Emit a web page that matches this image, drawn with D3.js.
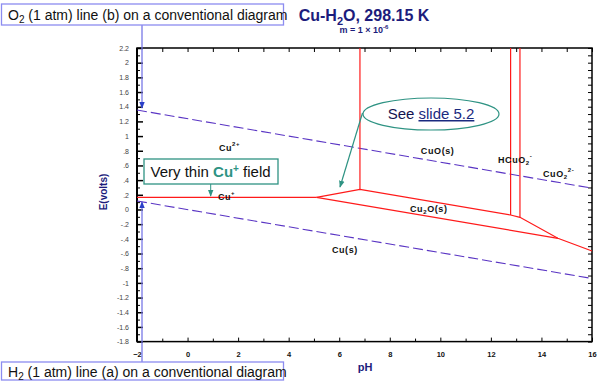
<!DOCTYPE html>
<html><head><meta charset="utf-8">
<script src="https://cdn.jsdelivr.net/npm/d3@7"></script>
<style>body{margin:0;background:#fff}svg{display:block}</style>
</head><body>
<svg id="c" width="600" height="386"></svg>
<script>
// ---------- data ----------
const pHMajor = [-2, 0, 2, 4, 6, 8, 10, 12, 14, 16];
const pHMinor = [-1, 1, 3, 5, 7, 9, 11, 13, 15];
const eLabelValues = [2.2, 2, 1.8, 1.6, 1.4, 1.2, 1, 0.8, 0.6, 0.4, 0.2, 0, -0.2, -0.4, -0.6, -0.8, -1, -1.2, -1.4, -1.6, -1.8];
const eLabels = ["2.2","2","1.8","1.6","1.4","1.2","1",".8",".6",".4",".2","0","-.2","-.4","-.6","-.8","-1","-1.2","-1.4","-1.6","-1.8"];
const eMinor = [2.1, 1.9, 1.7, 1.5, 1.3, 1.1, 0.9, 0.7, 0.5, 0.3, 0.1, -0.1, -0.3, -0.5, -0.7, -0.9, -1.1, -1.3, -1.5, -1.7];

// phase boundaries (pH, E)
const cuPlusPH = [-2, 5.1], cuPlusE = [0.165, 0.165];
const cu2oUpperPH = [5.1, 6.82, 12.78, 13.15, 14.65, 16];
const cu2oUpperE  = [0.165, 0.275, -0.075, -0.107, -0.393, -0.566];
const cu2oLowerPH = [5.1, 14.65], cu2oLowerE = [0.165, -0.393];
const verticalPH = [6.82, 12.78, 13.15];
const verticalE  = [0.275, -0.075, -0.107];
// water lines
const o2PH = [-2, 16], o2E = [1.355, 0.29];
const h2PH = [-2, 16], h2E = [0.116, -0.94];

// species labels
const speciesNames = ["Cu", "Cu", "CuO(s)", "HCuO", "CuO", "Cu", "Cu(s)"];
const speciesSub   = ["", "", "", "2", "2", "2", ""];
const speciesSup   = ["2+", "+", "", "-", "2-", "", ""];
const speciesTail  = ["", "", "", "", "", "O(s)", ""];
const speciesPH    = [1.24, 1.2, 9.23, 12.28, 14.06, 8.8, 5.71];
const speciesE     = [0.797, 0.129, 0.756, 0.633, 0.443, -0.034, -0.593];

// ---------- chart ----------
const svg = d3.select("#c");
const x = d3.scaleLinear().domain([-2, 16]).range([137, 592]);
const y = d3.scaleLinear().domain([-1.8, 2.2]).range([341.6, 48]);
const navy = "#1c1c7c", teal = "#2e9383", red = "#ff1a1a", purple = "#5a35c4";

// frame
svg.append("rect").attr("x", x(-2)).attr("y", y(2.2)).attr("width", x(16) - x(-2)).attr("height", y(-1.8) - y(2.2))
  .attr("fill", "none").attr("stroke", "#000").attr("stroke-width", 1.5);
svg.append("line").attr("x1", x(-2)).attr("x2", x(-2)).attr("y1", y(2.2)).attr("y2", y(-1.8)).attr("stroke", "#000").attr("stroke-width", 2);

// axes with inward ticks
const gx = svg.append("g").attr("transform", `translate(0,${y(-1.8)})`)
  .call(d3.axisBottom(x).tickValues(pHMajor).tickSize(-4).tickPadding(10).tickFormat(d3.format("d")));
gx.select(".domain").remove();
gx.selectAll("text").attr("font-family", "Arial, Liberation Sans, sans-serif").attr("font-size", 7.5).attr("font-weight", "bold").attr("fill", "#111");
svg.append("g").attr("transform", `translate(0,${y(-1.8)})`)
  .call(d3.axisBottom(x).tickValues(pHMinor).tickSize(-3).tickFormat("")).select(".domain").remove();
const gt = svg.append("g").attr("transform", `translate(0,${y(2.2)})`)
  .call(d3.axisTop(x).tickValues(pHMajor.concat(pHMinor)).tickSize(-4).tickFormat(""));
gt.select(".domain").remove();

const gy = svg.append("g").attr("transform", `translate(${x(-2)},0)`)
  .call(d3.axisLeft(y).tickValues(eLabelValues).tickSize(-6).tickPadding(8).tickFormat((d, i) => eLabels[i]));
gy.select(".domain").remove();
gy.selectAll("text").attr("font-family", "Arial, Liberation Sans, sans-serif").attr("font-size", 7).attr("fill", "#444");
gy.selectAll("line").attr("stroke-width", 1.5);
svg.append("g").attr("transform", `translate(${x(-2)},0)`)
  .call(d3.axisLeft(y).tickValues(eMinor).tickSize(-3).tickFormat("")).select(".domain").remove();
const gr = svg.append("g").attr("transform", `translate(${x(16)},0)`)
  .call(d3.axisRight(y).tickValues(eLabelValues.concat(eMinor)).tickSize(-4).tickFormat(""));
gr.select(".domain").remove();
svg.selectAll(".tick line").attr("stroke", "#000");

// water lines
const line = d3.line().x(d => x(d[0])).y(d => y(d[1]));
[[o2PH, o2E], [h2PH, h2E]].forEach(([p, e]) => {
  svg.append("path").attr("d", line(p.map((v, i) => [v, e[i]])))
    .attr("fill", "none").attr("stroke", purple).attr("stroke-width", 1.1).attr("stroke-dasharray", "10,4");
});

// phase boundaries
[[cuPlusPH, cuPlusE], [cu2oUpperPH, cu2oUpperE], [cu2oLowerPH, cu2oLowerE]].forEach(([p, e]) => {
  svg.append("path").attr("d", line(p.map((v, i) => [v, e[i]])))
    .attr("fill", "none").attr("stroke", red).attr("stroke-width", 1.2);
});
verticalPH.forEach((p, i) => {
  svg.append("line").attr("x1", x(p)).attr("x2", x(p)).attr("y1", y(verticalE[i])).attr("y2", y(2.2))
    .attr("stroke", red).attr("stroke-width", 1.2);
});

// species labels
speciesNames.forEach((n, i) => {
  const t = svg.append("text").attr("x", x(speciesPH[i])).attr("y", y(speciesE[i]))
    .attr("font-family", "Arial, Liberation Sans, sans-serif").attr("font-size", 9).attr("font-weight", "bold")
    .attr("letter-spacing", 0.6).attr("fill", "#111");
  t.append("tspan").text(n);
  if (speciesSub[i]) t.append("tspan").attr("dy", 2).attr("font-size", 6).text(speciesSub[i]);
  if (speciesSup[i]) t.append("tspan").attr("dy", speciesSub[i] ? -7 : -5).attr("font-size", 6).text(speciesSup[i]);
  if (speciesTail[i]) t.append("tspan").attr("dy", speciesSup[i] ? 5 : -2).text(speciesTail[i]);
});

// axis titles
svg.append("text").attr("x", 365).attr("y", 371).attr("text-anchor", "middle")
  .attr("font-family", "Arial, Liberation Sans, sans-serif").attr("font-size", 11).attr("font-weight", "bold").attr("fill", navy).text("pH");
svg.append("text").attr("transform", "translate(107,192) rotate(-90)").attr("text-anchor", "middle")
  .attr("font-family", "Arial, Liberation Sans, sans-serif").attr("font-size", 10).attr("font-weight", "bold").attr("fill", navy).text("E(volts)");

// title
const title = svg.append("text").attr("x", 364).attr("y", 21).attr("text-anchor", "middle")
  .attr("font-family", "Arial, Liberation Sans, sans-serif").attr("font-size", 16).attr("font-weight", "bold").attr("fill", navy);
title.append("tspan").text("Cu-H");
title.append("tspan").attr("dy", 4).attr("font-size", 11).text("2");
title.append("tspan").attr("dy", -4).text("O, 298.15 K");
const sub = svg.append("text").attr("x", 364).attr("y", 33).attr("text-anchor", "middle")
  .attr("font-family", "Arial, Liberation Sans, sans-serif").attr("font-size", 9).attr("font-weight", "bold").attr("fill", navy);
sub.append("tspan").text("m = 1 × 10");
sub.append("tspan").attr("dy", -4).attr("font-size", 6).text("-6");

// defs: arrowheads
const defs = svg.append("defs");
function marker(id, col) {
  defs.append("marker").attr("id", id).attr("viewBox", "0 0 10 10").attr("refX", 9).attr("refY", 5)
    .attr("markerWidth", 7).attr("markerHeight", 7).attr("markerUnits", "userSpaceOnUse").attr("orient", "auto")
    .append("path").attr("d", "M0,1 L10,5 L0,9 Z").attr("fill", col);
}
marker("ab", "#2a3fc8");
marker("at", teal);

// blue annotation arrows
svg.append("line").attr("x1", 142).attr("x2", 142).attr("y1", 25).attr("y2", y(o2E[0]) - 2)
  .attr("stroke", "#7878e6").attr("stroke-width", 1.3).attr("marker-end", "url(#ab)");
svg.append("line").attr("x1", 142).attr("x2", 142).attr("y1", 362).attr("y2", y(h2E[0]) + 1)
  .attr("stroke", "#7878e6").attr("stroke-width", 1.3).attr("marker-end", "url(#ab)");

// annotation boxes
function box(x0, y0, w, h, col) {
  svg.append("rect").attr("x", x0).attr("y", y0).attr("width", w).attr("height", h)
    .attr("fill", "#fff").attr("stroke", col).attr("stroke-width", 1.3);
}
box(1.5, 4, 282, 21, "#8c8cf0");
const t1 = svg.append("text").attr("x", 8).attr("y", 20).attr("font-family", "Arial, Liberation Sans, sans-serif").attr("font-size", 14).attr("fill", "#111");
t1.append("tspan").text("O");
t1.append("tspan").attr("dy", 3).attr("font-size", 10).text("2");
t1.append("tspan").attr("dy", -3).text(" (1 atm) line (b) on a conventional diagram");

box(1.5, 362, 282, 18, "#8c8cf0");
const t2 = svg.append("text").attr("x", 8).attr("y", 376.5).attr("font-family", "Arial, Liberation Sans, sans-serif").attr("font-size", 14).attr("fill", "#111");
t2.append("tspan").text("H");
t2.append("tspan").attr("dy", 3).attr("font-size", 10).text("2");
t2.append("tspan").attr("dy", -3).text(" (1 atm) line (a) on a conventional diagram");

// Very thin Cu+ field
box(144, 159, 134, 25, teal);
const t3 = svg.append("text").attr("x", 150.5).attr("y", 177).attr("font-family", "Arial, Liberation Sans, sans-serif").attr("font-size", 15).attr("fill", "#111");
t3.append("tspan").text("Very thin ");
t3.append("tspan").attr("font-weight", "bold").attr("fill", teal).text("Cu");
t3.append("tspan").attr("dy", -5).attr("font-size", 10).attr("font-weight", "bold").attr("fill", teal).text("+");
t3.append("tspan").attr("dy", 5).text(" field");
svg.append("line").attr("x1", 210.7).attr("x2", 210.7).attr("y1", 184).attr("y2", 196)
  .attr("stroke", teal).attr("stroke-width", 1).attr("marker-end", "url(#at)");

// See slide 5.2
svg.append("line").attr("x1", 362.5).attr("y1", 113).attr("x2", 340).attr("y2", 187)
  .attr("stroke", teal).attr("stroke-width", 1.2).attr("marker-end", "url(#at)");
svg.append("ellipse").attr("cx", 431).attr("cy", 114).attr("rx", 68).attr("ry", 16)
  .attr("fill", "#fff").attr("stroke", teal).attr("stroke-width", 1.2);
const t4 = svg.append("text").attr("x", 431).attr("y", 119).attr("text-anchor", "middle")
  .attr("font-family", "Arial, Liberation Sans, sans-serif").attr("font-size", 15);
t4.append("tspan").attr("fill", "#141450").text("See ");
t4.append("tspan").attr("fill", "#1a2a80").attr("text-decoration", "underline").text("slide 5.2");
</script>
</body></html>
